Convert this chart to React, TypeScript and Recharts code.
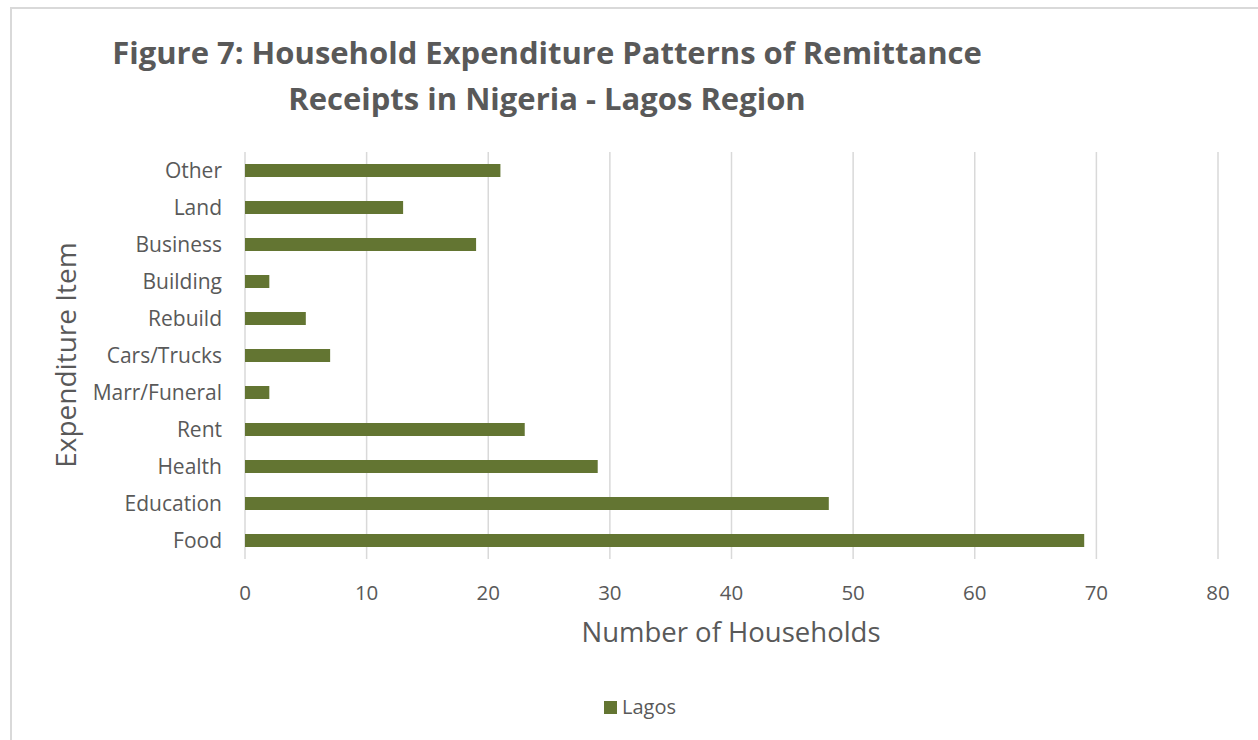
import React from "react";
import { BarChart, Bar, XAxis, YAxis, CartesianGrid } from "recharts";

const categories = ["Other", "Land", "Business", "Building", "Rebuild", "Cars/Trucks", "Marr/Funeral", "Rent", "Health", "Education", "Food"];
const lagos = [21, 13, 19, 2, 5, 7, 2, 23, 29, 48, 69];
const xTicks = [0, 10, 20, 30, 40, 50, 60, 70, 80];

const data = categories.map((name, i) => ({ name, Lagos: lagos[i] }));

const FONT = "'Open Sans', 'Noto Sans', sans-serif";
const GRAY = "#595959";
const GREEN = "#637532";

export default function App() {
  return (
    <div style={{ position: "absolute", left: 0, top: 0, width: 1258, height: 740, background: "#fff", fontFamily: FONT, overflow: "hidden" }}>
      <div style={{ position: "absolute", left: 10, top: 7, width: 1260, height: 760, border: "2px solid #d9d9d9", boxSizing: "border-box" }} />
      <div style={{ position: "absolute", left: 0, width: 1094, top: 29, textAlign: "center", color: GRAY, fontWeight: 700, fontSize: 31, lineHeight: "46px" }}>
        Figure 7: Household Expenditure Patterns of Remittance<br />Receipts in Nigeria - Lagos Region
      </div>
      <div style={{ position: "absolute", left: 0, top: 0 }}>
        <BarChart
          width={1258}
          height={740}
          data={data}
          layout="vertical"
          margin={{ top: 152, right: 40, bottom: 151, left: 0 }}
          barSize={13}
        >
          <CartesianGrid horizontal={false} vertical={true} stroke="#d9d9d9" strokeWidth={1.5} />
          <XAxis
            type="number"
            domain={[0, 80]}
            ticks={xTicks}
            axisLine={false}
            tickLine={false}
            height={30}
            tickMargin={20}
            tick={{ fill: GRAY, fontSize: 20.5, fontFamily: FONT }}
          />
          <YAxis
            type="category"
            dataKey="name"
            width={245}
            axisLine={false}
            tickLine={false}
            tickSize={0}
            tickMargin={23}
            tick={{ fill: GRAY, fontSize: 21, fontFamily: FONT }}
          />
          <Bar dataKey="Lagos" fill={GREEN} isAnimationActive={false} />
        </BarChart>
      </div>
      <div style={{ position: "absolute", left: 0, width: 1462, top: 612, textAlign: "center", color: GRAY, fontSize: 27.5, lineHeight: "40px" }}>
        Number of Households
      </div>
      <div style={{ position: "absolute", left: 65, top: 355, width: 0, height: 0 }}>
        <div style={{ position: "absolute", left: -150, top: -20, width: 300, textAlign: "center", color: GRAY, fontSize: 28, lineHeight: "40px", transform: "rotate(-90deg)" }}>
          Expenditure Item
        </div>
      </div>
      <div style={{ position: "absolute", left: 604, top: 693, display: "flex", alignItems: "center", color: GRAY, fontSize: 20, lineHeight: "28px" }}>
        <span style={{ display: "inline-block", width: 13, height: 13, background: GREEN, marginRight: 5 }} />
        Lagos
      </div>
    </div>
  );
}
